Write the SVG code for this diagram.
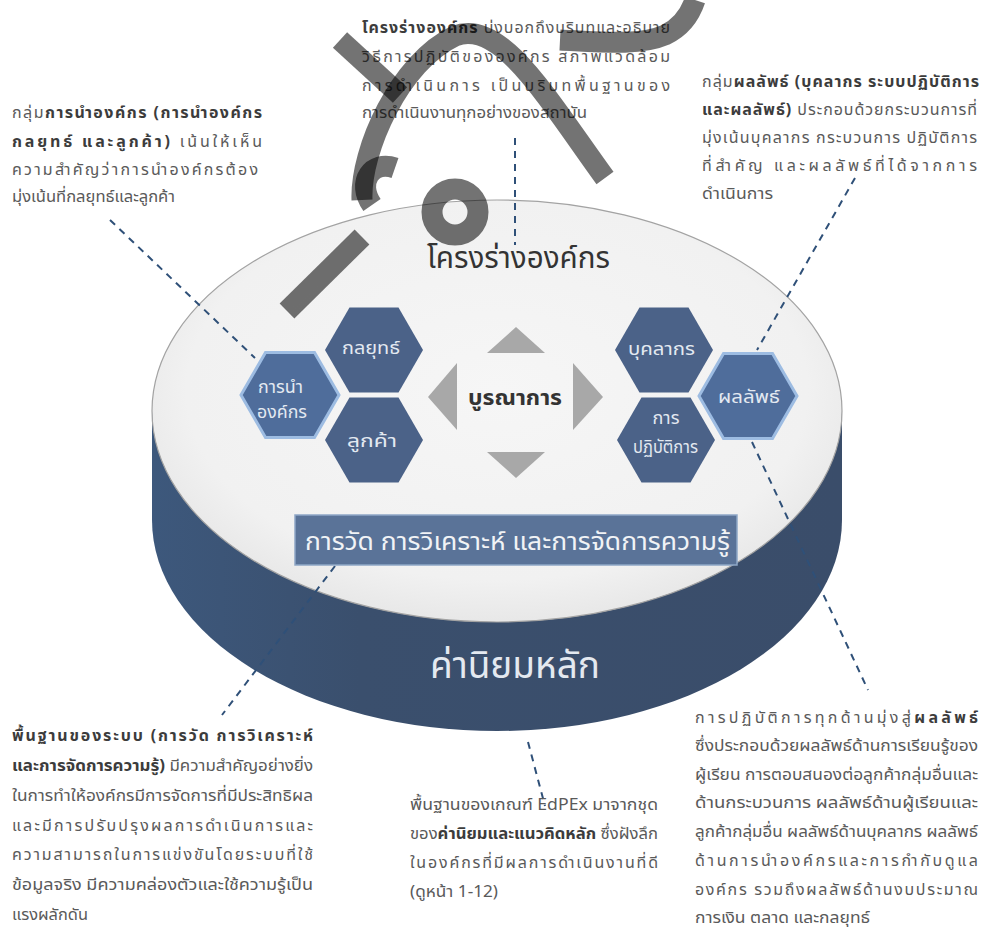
<svg xmlns="http://www.w3.org/2000/svg" width="981" height="940" viewBox="0 0 981 940">
<defs>
<style>
.t{font-family:'Noto Sans Thai','Tahoma','Noto Sans','DejaVu Sans',sans-serif;font-size:16px;fill:#5a5a5a}
.b{font-weight:bold;fill:#3c3c3c}
.hx{fill:#4b6288}
.hxs{fill:#4f6d9b;stroke:#9dbce2;stroke-width:3}
.ht{font-family:'Noto Sans Thai','Tahoma','Noto Sans',sans-serif;font-size:18px;fill:#e3e9f1}
.tri{fill:#a8a8a8}
.dash{stroke:#2f5078;stroke-width:2;stroke-dasharray:7 6;fill:none}
.wm{stroke:#000;stroke-opacity:0.55;stroke-width:21;fill:none;stroke-linecap:butt}
</style>
<radialGradient id="topg" cx="0.5" cy="0.45" r="0.6">
<stop offset="0" stop-color="#f6f6f6"/>
<stop offset="0.75" stop-color="#f1f1f1"/>
<stop offset="1" stop-color="#e3e3e3"/>
</radialGradient>
<linearGradient id="sideg" x1="0" y1="0" x2="1" y2="0">
<stop offset="0" stop-color="#3d587c"/>
<stop offset="0.3" stop-color="#3a4f6d"/>
<stop offset="1" stop-color="#3a4d6a"/>
</linearGradient>
</defs>
<rect width="981" height="940" fill="#ffffff"/>

<g id="disc">
<path d="M152,411 L152,520 A345,211 0 0 0 842,520 L842,411 Z" fill="url(#sideg)"/>
<ellipse cx="497" cy="411" rx="345" ry="211" fill="url(#topg)" stroke="#a3a3a3" stroke-width="1.2"/>
</g>

<g id="connectors">
<line class="dash" x1="110" y1="220" x2="255" y2="358"/>
<line class="dash" x1="515" y1="138" x2="515" y2="245"/>
<line class="dash" x1="855" y1="178" x2="757" y2="350"/>
<line class="dash" x1="752" y1="442" x2="868" y2="690"/>
<line class="dash" x1="335" y1="566" x2="222" y2="715"/>
<line class="dash" x1="528" y1="742" x2="545" y2="806"/>
</g>

<g id="title-frame">
<text x="427" y="268" textLength="183" lengthAdjust="spacingAndGlyphs" font-family="'Noto Sans Thai','Tahoma','Noto Sans',sans-serif" font-size="30" fill="#333">โครงร่างองค์กร</text>
</g>

<g id="integration">
<polygon class="tri" points="487,353 545,353 516,327"/>
<polygon class="tri" points="487,452 545,452 516,478"/>
<polygon class="tri" points="457,363 457,430 428,397"/>
<polygon class="tri" points="573,363 573,430 603,397"/>
<text x="468" y="405" textLength="94" lengthAdjust="spacingAndGlyphs" font-family="'Noto Sans Thai','Tahoma','Noto Sans',sans-serif" font-size="22" font-weight="bold" fill="#333">บูรณาการ</text>
</g>

<g id="hex-leadership">
<polygon class="hxs" points="241,395 265.5,352.5 314.5,352.5 339,395 314.5,437.5 265.5,437.5"/>
<text class="ht" x="258" y="393" textLength="45" lengthAdjust="spacingAndGlyphs">การนำ</text>
<text class="ht" x="257" y="418" textLength="50" lengthAdjust="spacingAndGlyphs">องค์กร</text>
</g>
<g id="hex-strategy">
<polygon class="hx" points="325,350 349.5,307.5 398.5,307.5 423,350 398.5,392.5 349.5,392.5"/>
<text class="ht" x="342" y="354" textLength="58" lengthAdjust="spacingAndGlyphs">กลยุทธ์</text>
</g>
<g id="hex-customer">
<polygon class="hx" points="325,440 349.5,397.5 398.5,397.5 423,440 398.5,482.5 349.5,482.5"/>
<text class="ht" x="347" y="447" textLength="50" lengthAdjust="spacingAndGlyphs">ลูกค้า</text>
</g>
<g id="hex-workforce">
<polygon class="hx" points="615,350 639.5,307.5 688.5,307.5 713,350 688.5,392.5 639.5,392.5"/>
<text class="ht" x="628" y="355" textLength="67" lengthAdjust="spacingAndGlyphs">บุคลากร</text>
</g>
<g id="hex-operations">
<polygon class="hx" points="617,440 641.5,397.5 690.5,397.5 715,440 690.5,482.5 641.5,482.5"/>
<text class="ht" x="666" y="424" font-size="13" text-anchor="middle">การ</text>
<text class="ht" x="633" y="453" font-size="16" textLength="65" lengthAdjust="spacingAndGlyphs">ปฏิบัติการ</text>
</g>
<g id="hex-results">
<polygon class="hxs" points="699,396 723.5,353.5 772.5,353.5 797,396 772.5,438.5 723.5,438.5"/>
<text class="ht" x="718" y="403" textLength="62" lengthAdjust="spacingAndGlyphs">ผลลัพธ์</text>
</g>

<g id="measurement">
<rect x="295" y="515" width="442" height="50" fill="#5a7398" stroke="#8ea7c6" stroke-width="1.5"/>
<text x="305" y="550" textLength="425" lengthAdjust="spacingAndGlyphs" font-family="'Noto Sans Thai','Tahoma','Noto Sans',sans-serif" font-size="25" fill="#f1f3f6">การวัด การวิเคราะห์ และการจัดการความรู้</text>
</g>

<g id="core-values">
<text x="430" y="678" textLength="170" lengthAdjust="spacingAndGlyphs" font-family="'Noto Sans Thai','Tahoma','Noto Sans',sans-serif" font-size="38" fill="#e4e9f0">ค่านิยมหลัก</text>
</g>

<g id="note-leadership">
<text class="t" x="12" y="118" textLength="250" lengthAdjust="spacing">กลุ่ม<tspan class="b">การนำองค์กร (การนำองค์กร</tspan></text>
<text class="t" x="12" y="147" textLength="250" lengthAdjust="spacing"><tspan class="b">กลยุทธ์ และลูกค้า)</tspan> เน้นให้เห็น</text>
<text class="t" x="12" y="175" textLength="246" lengthAdjust="spacing">ความสำคัญว่าการนำองค์กรต้อง</text>
<text class="t" x="12" y="202" textLength="163" lengthAdjust="spacingAndGlyphs">มุ่งเน้นที่กลยุทธ์และลูกค้า</text>
</g>

<g id="note-profile">
<text class="t" x="362" y="33" textLength="308" lengthAdjust="spacing"><tspan class="b">โครงร่างองค์กร</tspan> บ่งบอกถึงบริบทและอธิบาย</text>
<text class="t" x="362" y="62" textLength="308" lengthAdjust="spacing">วิธีการปฏิบัติขององค์กร สภาพแวดล้อม</text>
<text class="t" x="362" y="91" textLength="308" lengthAdjust="spacing">การดำเนินการ เป็นบริบทพื้นฐานของ</text>
<text class="t" x="362" y="118" textLength="225" lengthAdjust="spacingAndGlyphs">การดำเนินงานทุกอย่างของสถาบัน</text>
</g>

<g id="note-results">
<text class="t" x="702" y="87" textLength="277" lengthAdjust="spacing">กลุ่ม<tspan class="b">ผลลัพธ์ (บุคลากร ระบบปฏิบัติการ</tspan></text>
<text class="t" x="702" y="115" textLength="275" lengthAdjust="spacing"><tspan class="b">และผลลัพธ์)</tspan> ประกอบด้วยกระบวนการที่</text>
<text class="t" x="702" y="143" textLength="275" lengthAdjust="spacing">มุ่งเน้นบุคลากร กระบวนการ ปฏิบัติการ</text>
<text class="t" x="702" y="171" textLength="275" lengthAdjust="spacing">ที่สำคัญ และผลลัพธ์ที่ได้จากการ</text>
<text class="t" x="702" y="199" textLength="71" lengthAdjust="spacingAndGlyphs">ดำเนินการ</text>
</g>

<g id="note-measurement">
<text class="t" x="12" y="741" textLength="301" lengthAdjust="spacing"><tspan class="b">พื้นฐานของระบบ (การวัด การวิเคราะห์</tspan></text>
<text class="t" x="12" y="771" textLength="301" lengthAdjust="spacingAndGlyphs"><tspan class="b">และการจัดการความรู้)</tspan> มีความสำคัญอย่างยิ่ง</text>
<text class="t" x="12" y="801" textLength="301" lengthAdjust="spacingAndGlyphs">ในการทำให้องค์กรมีการจัดการที่มีประสิทธิผล</text>
<text class="t" x="12" y="831" textLength="301" lengthAdjust="spacing">และมีการปรับปรุงผลการดำเนินการและ</text>
<text class="t" x="12" y="860" textLength="301" lengthAdjust="spacing">ความสามารถในการแข่งขันโดยระบบที่ใช้</text>
<text class="t" x="12" y="890" textLength="301" lengthAdjust="spacingAndGlyphs">ข้อมูลจริง มีความคล่องตัวและใช้ความรู้เป็น</text>
<text class="t" x="12" y="920" textLength="76" lengthAdjust="spacingAndGlyphs">แรงผลักดัน</text>
</g>

<g id="note-values">
<text class="t" x="410" y="810" textLength="248" lengthAdjust="spacingAndGlyphs">พื้นฐานของเกณฑ์ EdPEx  มาจากชุด</text>
<text class="t" x="410" y="839" textLength="248" lengthAdjust="spacingAndGlyphs">ของ<tspan class="b">ค่านิยมและแนวคิดหลัก</tspan> ซึ่งฝังลึก</text>
<text class="t" x="410" y="868" textLength="248" lengthAdjust="spacing">ในองค์กรที่มีผลการดำเนินงานที่ดี</text>
<text class="t" x="410" y="897" textLength="88" lengthAdjust="spacingAndGlyphs">(ดูหน้า 1-12)</text>
</g>

<g id="note-operations">
<text class="t" x="695" y="723" textLength="283" lengthAdjust="spacing">การปฏิบัติการทุกด้านมุ่งสู่<tspan class="b">ผลลัพธ์</tspan></text>
<text class="t" x="695" y="751" textLength="283" lengthAdjust="spacingAndGlyphs">ซึ่งประกอบด้วยผลลัพธ์ด้านการเรียนรู้ของ</text>
<text class="t" x="695" y="780" textLength="283" lengthAdjust="spacingAndGlyphs">ผู้เรียน การตอบสนองต่อลูกค้ากลุ่มอื่นและ</text>
<text class="t" x="695" y="808" textLength="283" lengthAdjust="spacingAndGlyphs">ด้านกระบวนการ ผลลัพธ์ด้านผู้เรียนและ</text>
<text class="t" x="695" y="837" textLength="283" lengthAdjust="spacingAndGlyphs">ลูกค้ากลุ่มอื่น ผลลัพธ์ด้านบุคลากร ผลลัพธ์</text>
<text class="t" x="695" y="866" textLength="283" lengthAdjust="spacing">ด้านการนำองค์กรและการกำกับดูแล</text>
<text class="t" x="695" y="895" textLength="283" lengthAdjust="spacing">องค์กร รวมถึงผลลัพธ์ด้านงบประมาณ</text>
<text class="t" x="695" y="923" textLength="175" lengthAdjust="spacingAndGlyphs">การเงิน ตลาด และกลยุทธ์</text>
</g>

<g id="watermark">
<path class="wm" d="M340,40 L400,95"/>
<path class="wm" d="M395,168 C372,160 356,182 372,205"/>
<path class="wm" d="M362,200 C360,150 400,62 455,36 C500,18 545,95 605,178"/>
<path class="wm" d="M560,40 C600,42 640,46 665,35 C680,28 690,15 695,0"/>
<circle class="wm" cx="455" cy="212" r="23"/>
<path class="wm" d="M362,237 L287,311"/>
</g>
</svg>
